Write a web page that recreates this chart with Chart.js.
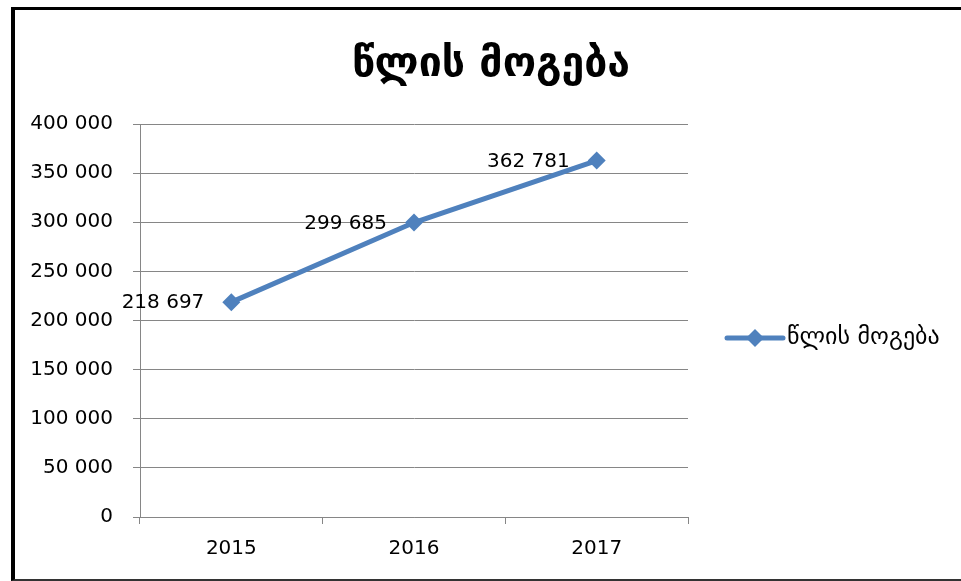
<!DOCTYPE html>
<html>
<head>
<meta charset="utf-8">
<script src="https://cdn.jsdelivr.net/npm/chart.js@4"></script>
<style>
  body { margin: 0; background: #fff; }
  #frame {
    position: absolute; left: 11px; top: 7px;
    width: 960px; height: 569px;
    border-left: 4px solid #000;
    border-top: 3px solid #000;
    border-bottom: 2px solid #333;
  }
  canvas { display: block; }
</style>
</head>
<body>
<div id="frame"><canvas id="profitChart" width="946" height="569"></canvas></div>
<script>
const years = ['2015', '2016', '2017'];
const profit = [218697, 299685, 362781];
const seriesName = 'წლის მოგება';
const chartTitle = 'წლის მოგება';

const lineColor = '#4F81BD';
const gridColor = '#868686';
const textFont = 'DejaVu Sans';

function fmt(v) {
  return String(v).replace(/\B(?=(\d{3})+(?!\d))/g, ' ');
}

// title centred on the whole canvas (the built-in one only spans the padded area)
const wideTitle = {
  id: 'wideTitle',
  afterDraw(chart) {
    const ctx = chart.ctx;
    ctx.save();
    ctx.font = 'bold 41px "' + textFont + '"';
    ctx.fillStyle = '#000';
    ctx.textAlign = 'center';
    ctx.textBaseline = 'middle';
    ctx.fillText(chartTitle, chart.width / 2 + 3, 55);
    ctx.restore();
  }
};

// value labels to the left of each marker
const valueLabels = {
  id: 'valueLabels',
  afterDatasetsDraw(chart) {
    const ctx = chart.ctx;
    const meta = chart.getDatasetMeta(0);
    ctx.save();
    ctx.font = '20px "' + textFont + '"';
    ctx.fillStyle = '#000';
    ctx.textAlign = 'right';
    ctx.textBaseline = 'middle';
    meta.data.forEach((pt, i) => {
      ctx.fillText(fmt(chart.data.datasets[0].data[i]), pt.x - 27, pt.y + 1);
    });
    ctx.restore();
  }
};

// legend at the right: line with a diamond, then the name
const sideLegend = {
  id: 'sideLegend',
  afterDraw(chart) {
    const ctx = chart.ctx;
    const ds = chart.data.datasets[0];
    const x0 = 712, x1 = 768, y = 328;
    ctx.save();
    ctx.strokeStyle = ds.borderColor;
    ctx.lineWidth = 5;
    ctx.lineCap = 'round';
    ctx.beginPath();
    ctx.moveTo(x0, y);
    ctx.lineTo(x1, y);
    ctx.stroke();
    const cx = (x0 + x1) / 2, r = 9;
    ctx.fillStyle = ds.borderColor;
    ctx.beginPath();
    ctx.moveTo(cx, y - r);
    ctx.lineTo(cx + r, y);
    ctx.lineTo(cx, y + r);
    ctx.lineTo(cx - r, y);
    ctx.closePath();
    ctx.fill();
    ctx.font = '24px "' + textFont + '"';
    ctx.fillStyle = '#000';
    ctx.textAlign = 'left';
    ctx.textBaseline = 'middle';
    ctx.fillText(ds.label, x1 + 4, y);
    ctx.restore();
  }
};

new Chart(document.getElementById('profitChart'), {
  type: 'line',
  data: {
    labels: years,
    datasets: [{
      label: seriesName,
      data: profit,
      borderColor: lineColor,
      backgroundColor: lineColor,
      borderWidth: 5,
      pointStyle: 'rectRot',
      pointRadius: 9,
      pointBorderWidth: 0,
      pointBackgroundColor: lineColor,
      tension: 0,
      fill: false
    }]
  },
  options: {
    responsive: false,
    animation: false,
    layout: { padding: { left: 0, right: 273, top: 114, bottom: 0 } },
    plugins: {
      legend: { display: false },
      tooltip: { enabled: false },
      title: { display: false }
    },
    scales: {
      x: {
        offset: true,
        afterFit(scale) { scale.height = 62; },
        grid: {
          offset: true,
          drawOnChartArea: false,
          drawTicks: true,
          tickLength: 7,
          color: gridColor
        },
        border: { color: gridColor, width: 1 },
        ticks: {
          color: '#000',
          padding: 13,
          font: { family: textFont, size: 20 }
        }
      },
      y: {
        min: 0,
        max: 400000,
        afterFit(scale) { scale.width = 125; },
        grid: { color: gridColor, tickLength: 7, lineWidth: 1 },
        border: { color: gridColor, width: 1 },
        ticks: {
          stepSize: 50000,
          color: '#000',
          padding: 20,
          font: { family: textFont, size: 20 },
          callback: (v) => fmt(v)
        }
      }
    }
  },
  plugins: [valueLabels, sideLegend, wideTitle]
});
</script>
</body>
</html>
